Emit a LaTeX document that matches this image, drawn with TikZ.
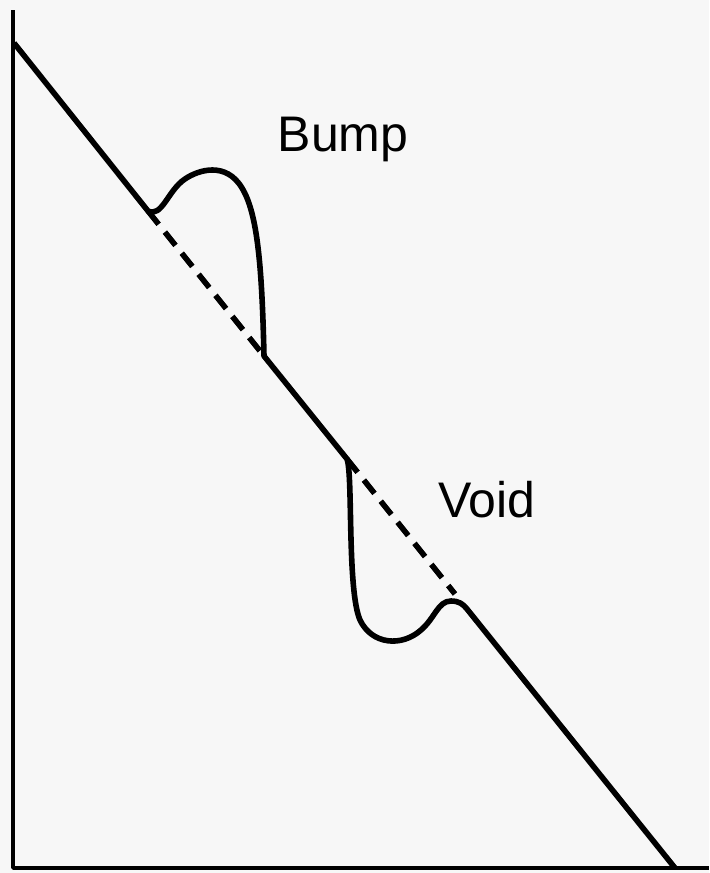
\documentclass[tikz,border=0pt]{standalone}
\usepackage{fontspec}
\setmainfont{Liberation Sans}
\usepackage{tikz}

\begin{document}
\begin{tikzpicture}[x=0.5pt,y=-0.5pt,line join=round]
  \tikzstyle{axis}=[line width=1.7pt]
  \tikzstyle{profile}=[line width=2.8pt]
  \tikzstyle{ideal}=[line width=2.8pt,dash pattern=on 8.5pt off 5pt]
  \tikzstyle{label}=[font=\fontsize{25}{30}\selectfont,inner sep=0pt]
  \fill[black!3] (0,0) rectangle (709,873);
  \useasboundingbox (0,0) rectangle (709,873);
  % axes
  \coordinate (O) at (13,868);
  \coordinate (Ytop) at (13,10);
  \coordinate (Xend) at (709,868);
  \draw[axis] (Ytop) -- (O) -- (Xend);
  % surface points
  \coordinate (S0) at (14,43);
  \coordinate (B1) at (148,211);
  \coordinate (B2) at (264,356);
  \coordinate (V1) at (347,459);
  \coordinate (V2) at (467,609);
  \coordinate (S1) at (675,868);
  % surface with bump and void
  \draw[profile] (S0) -- (B1)
    .. controls (162,218) and (168,190) .. (185,179)
    .. controls (198,170) and (226,161) .. (242,188)
    .. controls (258,214) and (262,270) .. (B2)
    -- (V1)
    .. controls (353,475) and (347,590) .. (360,620)
    .. controls (372,645) and (402,647) .. (421,630)
    .. controls (435,618) and (438,601) .. (451,601)
    .. controls (459,601) and (463,604) .. (V2)
    -- (S1);
  % original surface
  \draw[ideal] (B1) -- (B2);
  \draw[ideal] (V1) -- (455,594);
  \node[label] (bump) at (343,139) {Bump};
  \node[label] (void) at (487,500) {Void};
\end{tikzpicture}
\end{document}
